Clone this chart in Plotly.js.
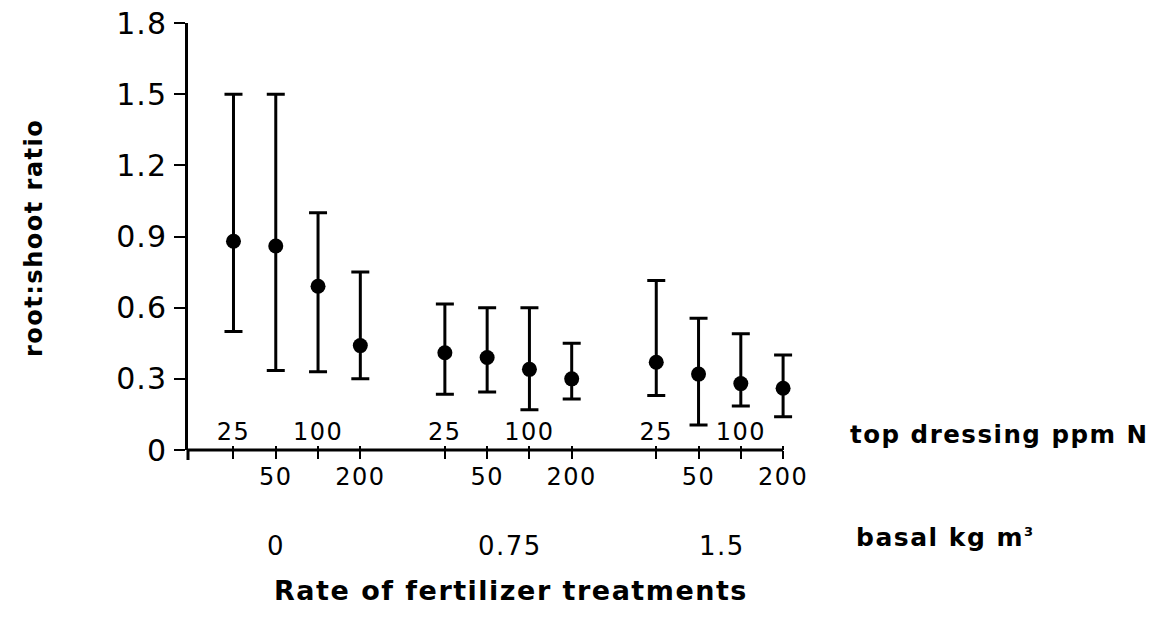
<!DOCTYPE html>
<html>
<head>
<meta charset="utf-8">
<script src="https://cdn.plot.ly/plotly-3.0.1.min.js"></script>
<style>
  html, body { margin: 0; padding: 0; background: #ffffff; }
  #chart { width: 1161px; height: 621px; }
  .ytick text { letter-spacing: 1px; }
  .xtick text, .x2tick text { letter-spacing: 1.5px; }
  .annotation-text { letter-spacing: 1.5px; }
</style>
</head>
<body>
<div id="chart"></div>
<script>
// ---- data ----
const basal = ['0', '0.75', '1.5'];               // basal kg m^-3
const topDressing = ['25', '50', '100', '200'];   // top dressing ppm N
const ratioMean  = [0.88, 0.86, 0.69, 0.44,  0.41, 0.39, 0.34, 0.30,  0.37, 0.32, 0.28, 0.26];
const ratioUpper = [1.50, 1.50, 1.00, 0.75,  0.615, 0.60, 0.60, 0.45,  0.715, 0.555, 0.49, 0.40];
const ratioLower = [0.50, 0.335, 0.33, 0.30, 0.235, 0.245, 0.17, 0.215, 0.23, 0.105, 0.185, 0.14];
const yTickVals  = [0, 0.3, 0.6, 0.9, 1.2, 1.5, 1.8];
const yTickText  = ['0', '0.3', '0.6', '0.9', '1.2', '1.5', '1.8'];

// ---- build positions: 4 treatments per basal group, one empty slot between groups ----
const xPos = [], topLabels = [], bottomLabels = [];
basal.forEach((b, g) => {
  topDressing.forEach((t, j) => {
    xPos.push(g * 5 + j + 1);
    topLabels.push(j % 2 === 0 ? t : '');
    bottomLabels.push(j % 2 === 1 ? t : '');
  });
});
const errPlus  = ratioUpper.map((u, i) => u - ratioMean[i]);
const errMinus = ratioMean.map((m, i) => m - ratioLower[i]);

const FONT = 'DejaVu Sans, Arial, sans-serif';
const xRange = [-0.076, 14.4];
const axisEnd = xPos[xPos.length - 1];

const trace = {
  type: 'scatter',
  mode: 'markers',
  x: xPos,
  y: ratioMean,
  marker: { color: '#000', size: 15 },
  error_y: {
    type: 'data', symmetric: false,
    array: errPlus, arrayminus: errMinus,
    color: '#000', thickness: 3, width: 9
  },
  cliponaxis: false,
  showlegend: false,
  hoverinfo: 'x+y'
};
// carrier trace for the upper tick-label row (invisible)
const carrier = {
  type: 'scatter', mode: 'markers', x: xPos, y: ratioMean,
  xaxis: 'x2', yaxis: 'y',
  marker: { opacity: 0, size: 1 }, showlegend: false, hoverinfo: 'skip'
};

// label positions for basal groups (data units along x)
const basalLabelX = [2.0, 7.55, 12.55];

const annotations = [
  { text: 'root:shoot ratio', textangle: -90, xref: 'paper', yref: 'paper',
    x: -0.2516, y: 0.4965, xanchor: 'center', yanchor: 'middle', showarrow: false,
    font: { family: FONT, size: 24, color: '#000', weight: 700 } },
  { text: 'top dressing ppm N', xref: 'paper', yref: 'paper',
    x: 1.078, y: 0.036, xanchor: 'left', yanchor: 'middle', showarrow: false,
    font: { family: FONT, size: 24.5, color: '#000', weight: 700 } },
  { text: 'basal kg m<sup><span style="font-size:13px">3</span></sup>', xref: 'paper', yref: 'paper',
    x: 1.088, y: -0.206, xanchor: 'left', yanchor: 'middle', showarrow: false,
    font: { family: FONT, size: 25, color: '#000', weight: 700 } },
  { text: 'Rate of fertilizer treatments', xref: 'paper', yref: 'paper',
    x: 0.527, y: -0.328, xanchor: 'center', yanchor: 'middle', showarrow: false,
    font: { family: FONT, size: 27, color: '#000', weight: 700 } }
];
basal.forEach((b, g) => {
  annotations.push({ text: b, xref: 'x', yref: 'paper', x: basalLabelX[g], y: -0.2248,
    xanchor: 'center', yanchor: 'middle', showarrow: false,
    font: { family: FONT, size: 26, color: '#000' } });
});

const layout = {
  width: 1161, height: 621,
  margin: { l: 188, r: 361, t: 23, b: 171, pad: 0 },
  paper_bgcolor: '#fff', plot_bgcolor: '#fff',
  font: { family: FONT, color: '#000' },
  xaxis: {
    range: xRange, showgrid: false, zeroline: false, showline: false,
    tickmode: 'array', tickvals: xPos, ticktext: bottomLabels,
    ticks: 'outside', ticklen: 8, tickwidth: 2, tickcolor: '#000',
    tickfont: { family: FONT, size: 24, color: '#000' },
    ticklabelstandoff: -3, fixedrange: true
  },
  xaxis2: {
    overlaying: 'x', anchor: 'free', position: 0, side: 'top',
    range: xRange, showgrid: false, zeroline: false, showline: false,
    tickmode: 'array', tickvals: xPos, ticktext: topLabels,
    ticks: 'outside', ticklen: 4, tickwidth: 2, tickcolor: '#000',
    tickfont: { family: FONT, size: 24, color: '#000' },
    ticklabelstandoff: -4, fixedrange: true
  },
  yaxis: {
    range: [0, 1.8], showgrid: false, zeroline: false,
    showline: true, linecolor: '#000', linewidth: 3,
    tickmode: 'array', tickvals: yTickVals, ticktext: yTickText,
    ticks: 'outside', ticklen: 11, tickwidth: 2, tickcolor: '#000',
    tickfont: { family: FONT, size: 30, color: '#000' },
    ticklabelstandoff: 1, fixedrange: true
  },
  shapes: [
    { type: 'line', xref: 'x', yref: 'paper', x0: xRange[0], x1: axisEnd, y0: 0, y1: 0,
      line: { color: '#000', width: 3 } },
    { type: 'line', xref: 'paper', yref: 'paper', x0: 0, x1: 0, y0: 0, y1: -0.0234,
      line: { color: '#000', width: 3 } }
  ],
  annotations: annotations
};

Plotly.newPlot('chart', [trace, carrier], layout, { displayModeBar: false, staticPlot: true });
</script>
</body>
</html>
